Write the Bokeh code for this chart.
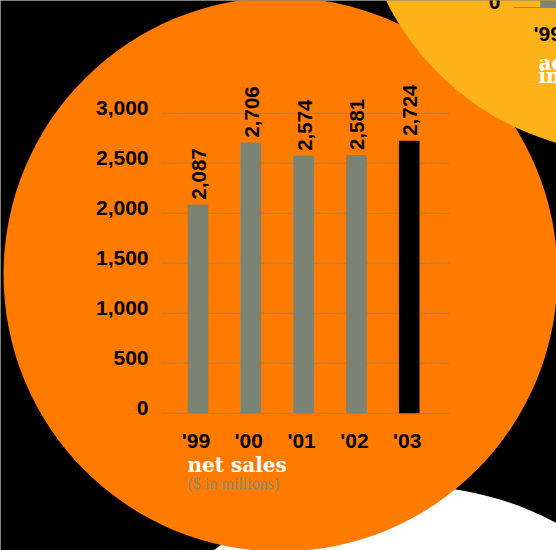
from bokeh.plotting import figure
from bokeh.models import Range1d, ColumnDataSource
from bokeh.core.properties import value
from bokeh.embed import file_html
from bokeh.resources import INLINE

# ---- data ----
years = ["'99", "'00", "'01", "'02", "'03"]
net_sales = [2087, 2706, 2574, 2581, 2724]
y_ticks = [0, 500, 1000, 1500, 2000, 2500, 3000]
y_tick_labels = ["0", "500", "1,000", "1,500", "2,000", "2,500", "3,000"]

# fragment of the neighbouring chart (top right)
next_years = ["'99"]
next_values = [600]
next_ticks = [0]
next_tick_labels = ["0"]

# ---- styles ----
ORANGE = "#FF7B00"
YELLOW = "#FFB31A"
GREY = "#7B8474"
GRID = "#8E8A6C"
SUB = "#8C8C70"
SANS = value("Liberation Sans")
SLAB = value("DejaVu Serif")

p = figure(width=556, height=550, x_range=Range1d(0, 556), y_range=Range1d(550, 0),
           output_backend="svg", toolbar_location=None,
           x_axis_location=None, y_axis_location=None, min_border=0,
           background_fill_color="black", border_fill_color="black",
           outline_line_color=None)
p.xgrid.visible = False
p.ygrid.visible = False

# decorative discs (pixel space)
p.circle(x=[406], y=[804], radius=319, fill_color="white", line_color=None)
p.circle(x=[280], y=[274], radius=277, fill_color=ORANGE, line_color=None)
p.circle(x=[632], y=[-122], radius=275, fill_color=YELLOW, line_color=None)

# chart scales
px_per_cat = 52.8
cat0 = 197.5
p.extra_x_ranges["cat"] = Range1d(-cat0 / px_per_cat, (556 - cat0) / px_per_cat)
zero_px = 412.7
px_per_unit = 0.1
p.extra_y_ranges["val"] = Range1d(-(550 - zero_px) / px_per_unit, zero_px / px_per_unit)

idx = list(range(len(years)))
src = ColumnDataSource(dict(
    x=idx, top=net_sales, year=years,
    lab=[f"{v:,}" for v in net_sales],
    color=[GREY] * (len(years) - 1) + ["black"],
))

# gridlines
g_left = (161 - cat0) / px_per_cat
g_right = (449 - cat0) / px_per_cat
p.segment(x0=[g_left] * len(y_ticks), x1=[g_right] * len(y_ticks), y0=y_ticks, y1=y_ticks,
          line_color=GRID, line_width=1, x_range_name="cat", y_range_name="val")

p.vbar(x="x", top="top", bottom=0, width=0.39, fill_color="color", line_color=None,
       source=src, x_range_name="cat", y_range_name="val")

# y tick labels
p.text(x=[(148 - cat0) / px_per_cat] * len(y_ticks), y=y_ticks, text=y_tick_labels,
       text_align="right", text_baseline="alphabetic", y_offset=-5,
       text_font=SANS, text_font_style="bold", text_font_size="21px",
       text_color="black", x_range_name="cat", y_range_name="val")

# value labels
p.text(x="x", y="top", text="lab", angle=1.5707963, text_align="left", text_baseline="middle",
       y_offset=-5, x_offset=1,
       text_font=SANS, text_font_style="bold", text_font_size="20.5px",
       text_color="black", source=src, x_range_name="cat", y_range_name="val")

# category labels
p.text(x="x", y=0, text="year", text_align="center", text_baseline="alphabetic", y_offset=27,
       x_offset=-2,
       text_font=SANS, text_font_style="bold", text_font_size="21px",
       text_color="black", source=src, x_range_name="cat", y_range_name="val")

# titles
p.text(x=[187], y=[464.5], text=["net sales"], text_align="left", text_baseline="alphabetic",
       text_font=SLAB, text_font_style="bold", text_font_size="20px",
       text_color="white")
p.text(x=[187], y=[483], text=["($ in millions)"], text_align="left", text_baseline="alphabetic",
       text_font=value("Liberation Serif"), text_font_size="16px", text_color=SUB)

# neighbouring chart fragment
p.extra_x_ranges["cat2"] = Range1d(-550 / px_per_cat, (556 - 550) / px_per_cat)
p.extra_y_ranges["val2"] = Range1d(-(550 - 7) / px_per_unit, 7 / px_per_unit)
nidx = list(range(len(next_years)))
p.segment(x0=[(513 - 550) / px_per_cat], x1=[(556 - 550) / px_per_cat], y0=next_ticks, y1=next_ticks,
          line_color=GRID, line_width=1, x_range_name="cat2", y_range_name="val2")
p.vbar(x=nidx, top=next_values, bottom=0, width=0.39, fill_color=GREY, line_color=None,
       x_range_name="cat2", y_range_name="val2")
p.text(x=[(500 - 550) / px_per_cat], y=next_ticks, text=next_tick_labels, text_align="right",
       text_baseline="alphabetic", y_offset=-6,
       text_font=SANS, text_font_style="bold", text_font_size="21px",
       text_color="black", x_range_name="cat2", y_range_name="val2")
p.text(x=nidx, y=[0], text=next_years, text_align="left", text_baseline="alphabetic",
       x_offset=-17, y_offset=26,
       text_font=SANS, text_font_style="bold", text_font_size="21px",
       text_color="black", x_range_name="cat2", y_range_name="val2")
p.text(x=[538, 538], y=[62, 75], text=["ac", "in"], text_align="left", text_baseline="alphabetic",
       text_font=SLAB, text_font_style="bold", text_font_size="20px",
       text_color="white")

open("out.html", "w").write(file_html(p, INLINE))
